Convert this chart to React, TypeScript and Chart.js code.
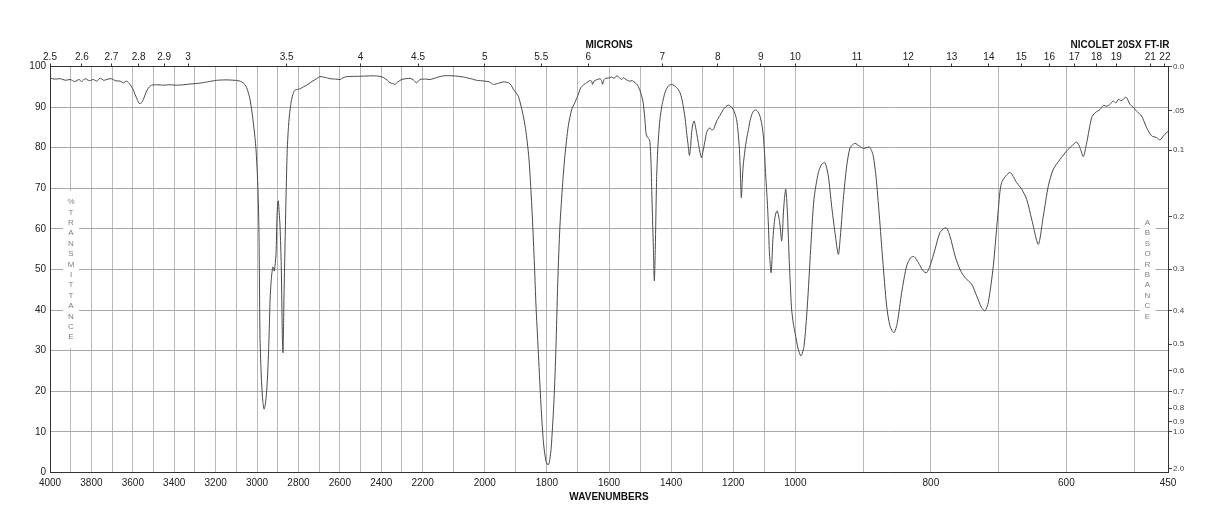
import React, { useEffect, useRef } from 'react';
import { Chart, registerables, LinearScale } from 'chart.js';

Chart.register(...registerables);

// ---------- data ----------
const wavenumbers = [
  4000, 3975, 3950, 3925, 3903, 3880, 3860, 3847, 3830, 3810, 3791, 3775, 3758, 3740, 3720, 3702, 3685, 3662, 3645, 3630,
  3614, 3600, 3589, 3578, 3569, 3559, 3549, 3533, 3520, 3509, 3480, 3453, 3420, 3390, 3356, 3320, 3276, 3240, 3195, 3150,
  3106, 3090, 3074, 3060, 3050, 3040, 3034, 3025, 3018, 3010, 3005, 2998, 2994, 2991, 2989, 2986, 2982, 2978, 2972, 2966,
  2960, 2954, 2948, 2944, 2940, 2937, 2932, 2928, 2924, 2921, 2917, 2912, 2908, 2904, 2900, 2897, 2893, 2889, 2883, 2878,
  2875, 2872, 2870, 2866, 2862, 2858, 2854, 2849, 2844, 2838, 2833, 2825, 2817, 2800, 2792, 2776, 2760, 2735, 2712, 2696,
  2670, 2648, 2620, 2599, 2585, 2567, 2500, 2438, 2410, 2390, 2370, 2358, 2345, 2334, 2320, 2301, 2280, 2261, 2245, 2229,
  2213, 2190, 2176, 2150, 2133, 2101, 2069, 2040, 2026, 2000, 1985, 1972, 1955, 1940, 1924, 1915, 1908, 1900, 1892, 1884,
  1876, 1869, 1863, 1858, 1854, 1847, 1840, 1835, 1828, 1820, 1811, 1803, 1798, 1794, 1789, 1785, 1777, 1771, 1765, 1758,
  1749, 1742, 1731, 1720, 1710, 1699, 1691, 1680, 1672, 1663, 1656, 1653, 1648, 1640, 1629, 1624, 1621, 1617, 1613, 1600,
  1592, 1583, 1575, 1566, 1559, 1553, 1549, 1541, 1533, 1525, 1516, 1508, 1500, 1495, 1490, 1485, 1481, 1477, 1474, 1470,
  1468, 1465, 1463, 1460, 1457, 1454, 1451, 1447, 1444, 1441, 1436, 1430, 1425, 1420, 1414, 1409, 1403, 1398, 1390, 1382,
  1376, 1371, 1366, 1361, 1355, 1350, 1345, 1341, 1337, 1334, 1330, 1326, 1322, 1318, 1313, 1309, 1305, 1302, 1298, 1294,
  1290, 1286, 1280, 1275, 1270, 1264, 1258, 1253, 1248, 1243, 1237, 1232, 1224, 1216, 1208, 1200, 1195, 1189, 1184, 1180,
  1177, 1174, 1171, 1168, 1162, 1157, 1151, 1146, 1140, 1135, 1127, 1120, 1114, 1108, 1103, 1099, 1096, 1092, 1089, 1086,
  1084, 1081, 1078, 1075, 1073, 1069, 1065, 1061, 1058, 1053, 1049, 1046, 1044, 1041, 1039, 1035, 1031, 1028, 1025, 1022,
  1019, 1017, 1012, 1006, 1001, 995.6, 991.6, 987.2, 982.3, 977.4, 972.5, 966, 961.1, 956.2, 951.3, 946.4, 941.5, 936.5, 933.1, 929.2,
  924.2, 919.3, 915, 911.9, 905.5, 899.6, 895, 890.8, 887.5, 884.9, 881, 876, 871.1, 865.2, 860.3, 854.4, 849.5, 843.1, 835.7, 829.8,
  824.9, 818.5, 811.1, 806.2, 801.3, 793.9, 786.5, 777.6, 771.7, 764.4, 757, 749.6, 739.8, 732.4, 725, 720.1, 715.2, 707.8, 700.4, 695.5,
  683.2, 673.4, 666, 658.6, 651.2, 641.4, 634, 626.6, 619.3, 609.4, 599.6, 592.2, 584.8, 579.9, 575, 570, 562.7, 557.7, 550.4, 545.5,
  540, 535.6, 533, 530.7, 527, 523.3, 519, 515.9, 513, 511, 506.1, 501, 496.3, 488.9, 481.5, 474.1, 466.7, 461.8, 456.9, 452, 450,
];

const transmittance = [
  97.1, 96.9, 97.0, 96.6, 96.8, 96.3, 96.8, 96.3, 97.0, 96.5, 96.8, 96.4, 97.1, 96.6, 96.9, 97.0, 96.5, 96.4, 96.0, 96.4,
  95.6, 94.5, 93.1, 91.8, 90.9, 91.0, 91.9, 94.0, 95.0, 95.4, 95.5, 95.4, 95.5, 95.4, 95.5, 95.7, 95.9, 96.2, 96.6, 96.7,
  96.6, 96.5, 96.2, 95.6, 94.8, 93.2, 91.9, 89.0, 86.2, 82.5, 79.6, 73.0, 67.3, 60.0, 50.9, 34.4, 27.0, 22.1, 17.5, 15.6,
  16.8, 19.7, 25.0, 30.3, 37.0, 42.7, 47.0, 49.2, 50.6, 50.5, 49.6, 51.5, 54.1, 62.4, 66.5, 66.9, 64.0, 60.7, 50.9, 34.4,
  29.5, 36.0, 42.7, 53.0, 63.2, 72.0, 79.6, 84.5, 87.8, 90.3, 91.9, 93.4, 94.2, 94.4, 94.5, 95.0, 95.4, 96.3, 97.0, 97.5,
  97.3, 97.0, 96.9, 96.8, 97.2, 97.5, 97.6, 97.7, 97.6, 97.3, 96.6, 96.0, 95.8, 95.6, 96.2, 96.8, 97.0, 97.1, 96.7, 96.0,
  96.8, 96.9, 96.8, 97.4, 97.7, 97.7, 97.4, 96.9, 96.6, 96.4, 96.2, 95.6, 95.9, 96.2, 96.0, 95.4, 94.4, 93.6, 92.7, 90.5,
  87.8, 84.8, 81.2, 77.5, 73.0, 63.2, 50.9, 41.0, 30.3, 18.0, 7.3, 2.8, 2.0, 2.0, 4.0, 7.3, 18.0, 30.3, 46.8, 60.7,
  71.4, 78.0, 85.4, 89.4, 91.1, 93.1, 94.8, 95.6, 96.0, 96.5, 96.4, 95.6, 96.4, 96.7, 97.0, 96.6, 95.6, 96.5, 97.0, 97.2,
  97.4, 97.1, 97.7, 97.2, 96.8, 97.3, 97.0, 96.6, 96.4, 96.5, 96.0, 95.4, 94.0, 92.8, 91.1, 87.5, 83.7, 82.6, 82.4, 82.0,
  81.2, 77.0, 71.4, 63.0, 54.9, 47.2, 54.9, 71.4, 78.0, 82.1, 87.0, 90.2, 92.0, 93.5, 94.6, 95.2, 95.5, 95.6, 95.3, 94.8,
  94.2, 93.5, 92.2, 90.2, 87.3, 83.7, 80.5, 78.1, 80.5, 83.7, 85.8, 86.6, 85.4, 83.7, 81.5, 79.6, 78.2, 77.5, 78.8, 80.4,
  82.0, 83.7, 84.6, 84.9, 84.4, 84.5, 85.6, 86.6, 87.3, 87.9, 88.7, 89.4, 90.1, 90.5, 90.2, 89.4, 88.5, 86.9, 83.5, 79.6,
  74.0, 67.7, 71.5, 75.5, 79.5, 82.1, 84.5, 86.6, 88.2, 89.0, 89.3, 88.8, 87.8, 85.8, 82.9, 78.5, 73.9, 69.0, 64.8, 59.5,
  54.9, 51.5, 49.2, 52.5, 56.6, 60.5, 63.2, 64.2, 64.4, 62.8, 60.7, 58.2, 57.0, 59.5, 63.2, 67.5, 69.8, 67.5, 63.2, 57.0,
  50.9, 47.6, 40.2, 36.5, 34.4, 30.3, 28.7, 31.1, 41.0, 54.9, 67.3, 73.9, 75.9, 76.3, 73.0, 65.6, 59.1, 53.7, 59.1, 67.3,
  75.5, 80.0, 80.8, 81.1, 80.4, 79.8, 80.0, 80.2, 79.3, 77.9, 73.0, 63.2, 52.5, 41.0, 36.1, 34.4, 36.9, 44.3, 50.9, 52.9,
  53.2, 51.7, 49.6, 49.2, 50.9, 54.9, 59.1, 60.3, 58.2, 53.4, 50.0, 48.0, 46.4, 43.5, 40.6, 39.8, 41.9, 50.9, 64.8, 71.4,
  73.9, 71.4, 69.8, 67.3, 62.4, 56.2, 63.2, 70.6, 74.7, 77.1, 79.2, 80.4, 81.4, 80.0, 77.8, 81.2, 87.4, 88.6, 89.4, 90.4,
  90.2, 90.7, 91.2, 91.5, 91.0, 91.9, 91.6, 91.9, 92.4, 92.3, 90.7, 89.9, 89.0, 87.8, 84.9, 82.9, 82.5, 81.9, 82.9, 83.7, 84.0,
];

// bottom axis: labelled wavenumbers (grid every 100)
const wavenumberLabels = [4000, 3800, 3600, 3400, 3200, 3000, 2800, 2600, 2400, 2200, 2000, 1800, 1600, 1400, 1200, 1000, 800, 600, 450];
// top axis: microns
const micronLabels = [2.5, 2.6, 2.7, 2.8, 2.9, 3, 3.5, 4, 4.5, 5, 5.5, 6, 7, 8, 9, 10, 11, 12, 13, 14, 15, 16, 17, 18, 19, 21, 22];
// left axis: % transmittance
const transmittanceTicks = [0, 10, 20, 30, 40, 50, 60, 70, 80, 90, 100];
// right axis: absorbance
const absorbanceValues = [0, 0.05, 0.1, 0.2, 0.3, 0.4, 0.5, 0.6, 0.7, 0.8, 0.9, 1.0, 2.0];
const absorbanceLabels = ['0.0', '.05', '0.1', '0.2', '0.3', '0.4', '0.5', '0.6', '0.7', '0.8', '0.9', '1.0', '2.0'];

// ---------- piecewise wavenumber scale (three equal thirds) ----------
function wnToFrac(v: number) {
  if (v >= 2200) return (4000 - v) / 1800 / 3;
  if (v >= 1000) return 1 / 3 + (2200 - v) / 1200 / 3;
  return 2 / 3 + (1000 - v) / 550 / 3;
}
function fracToWn(f: number) {
  if (f <= 1 / 3) return 4000 - f * 3 * 1800;
  if (f <= 2 / 3) return 2200 - (f - 1 / 3) * 3 * 1200;
  return 1000 - (f - 2 / 3) * 3 * 550;
}

class IRScale extends (LinearScale as any) {
  static id = 'irwave';
  static defaults = { ...(LinearScale as any).defaults };
  getPixelForValue(value: number) {
    return (this as any).getPixelForDecimal(wnToFrac(value));
  }
  getValueForPixel(pixel: number) {
    return fracToWn((this as any).getDecimalForPixel(pixel));
  }
}
Chart.register(IRScale as any);

const FONT = 'Liberation Sans, Arial, Helvetica, sans-serif';

const textPlugin = {
  id: 'irText',
  beforeDatasetsDraw(chart: any) {
    const ctx = chart.ctx;
    ctx.save();
    const drawColumn = (text: string, x: number, yFirst: number, step: number) => {
      const chars = text.split('');
      const yLast = yFirst + step * (chars.length - 1);
      ctx.fillStyle = '#ffffff';
      ctx.fillRect(x - 8, yFirst - 11, 16, yLast - yFirst + 22);
      ctx.fillStyle = '#808080';
      ctx.font = `8px ${FONT}`;
      ctx.textAlign = 'center';
      ctx.textBaseline = 'middle';
      chars.forEach((c, i) => ctx.fillText(c, x, yFirst + i * step));
    };
    const yPix = chart.scales.y;
    const mid = yPix.getPixelForValue(50);
    drawColumn('%TRANSMITTANCE', 71, mid - 6.5 * 10.4, 10.4);
    drawColumn('ABSORBANCE', 1147.5, mid - 4.5 * 10.4, 10.4);
    ctx.restore();
  },
  afterDraw(chart: any) {
    const ctx = chart.ctx;
    ctx.save();
    ctx.fillStyle = '#111';
    ctx.font = `bold 10px ${FONT}`;
    ctx.textAlign = 'center';
    ctx.textBaseline = 'middle';
    const cx = (chart.chartArea.left + chart.chartArea.right) / 2;
    ctx.fillText('MICRONS', cx, 45);
    ctx.fillText('NICOLET 20SX FT-IR', 1120, 45);
    ctx.fillText('WAVENUMBERS', cx, 497);
    ctx.restore();
  },
};

export default function App() {
  const ref = useRef<HTMLCanvasElement | null>(null);

  useEffect(() => {
    if (!ref.current) return;
    const points = wavenumbers.map((w, i) => ({ x: w, y: transmittance[i] }));
    const gridTicks: number[] = [];
    for (let w = 4000; w >= 500; w -= 100) gridTicks.push(w);
    gridTicks.push(450);

    const chart = new Chart(ref.current, {
      type: 'line',
      data: {
        datasets: [
          {
            data: points,
            borderColor: '#4a4a4a',
            borderWidth: 1,
            pointRadius: 0,
            tension: 0.25,
            fill: false,
            xAxisID: 'x',
            yAxisID: 'y',
          },
        ],
      },
      options: {
        animation: false,
        responsive: false,
        devicePixelRatio: 1,
        layout: { padding: 0 },
        plugins: { legend: { display: false }, tooltip: { enabled: false }, title: { display: false } },
        font: { family: FONT },
        scales: {
          x: {
            type: 'irwave' as any,
            position: 'bottom',
            min: 450,
            max: 4000,
            bounds: 'data',
            afterBuildTicks: (s: any) => {
              s.ticks = gridTicks.map((v) => ({ value: v }));
            },
            afterFit: (s: any) => {
              s.height = 528 - 472.5;
            },
            grid: { color: '#b8b8b8', lineWidth: 1, drawTicks: false },
            border: { display: true, color: '#333', width: 1 },
            ticks: {
              autoSkip: false,
              maxRotation: 0,
              padding: 5,
              color: '#222',
              font: { size: 10, family: FONT },
              callback: (v: any) => (wavenumberLabels.includes(Number(v)) ? String(v) : ''),
            },
          } as any,
          x2: {
            type: 'irwave' as any,
            position: 'top',
            min: 450,
            max: 4000,
            bounds: 'data',
            afterBuildTicks: (s: any) => {
              s.ticks = micronLabels.map((m) => ({ value: 10000 / m }));
            },
            afterFit: (s: any) => {
              s.height = 66.5;
            },
            grid: { drawOnChartArea: false, drawTicks: true, tickLength: 3, color: '#333' },
            border: { display: true, color: '#333', width: 1 },
            ticks: {
              autoSkip: false,
              maxRotation: 0,
              padding: 0,
              color: '#222',
              font: { size: 10, family: FONT },
              callback: (_v: any, i: number) => String(micronLabels[i]),
            },
          } as any,
          y: {
            type: 'linear',
            position: 'left',
            min: 0,
            max: 100,
            afterBuildTicks: (s: any) => {
              s.ticks = transmittanceTicks.map((v) => ({ value: v }));
            },
            afterFit: (s: any) => {
              s.width = 50;
            },
            grid: { color: '#a8a8a8', lineWidth: 1, drawTicks: false },
            border: { display: true, color: '#333', width: 1 },
            ticks: {
              padding: 4,
              color: '#222',
              font: { size: 10, family: FONT },
              callback: (v: any) => String(v),
            },
          },
          y2: {
            type: 'linear',
            position: 'right',
            min: 0,
            max: 100,
            afterBuildTicks: (s: any) => {
              s.ticks = absorbanceValues.map((a) => ({ value: 100 * Math.pow(10, -a) }));
            },
            afterFit: (s: any) => {
              s.width = 50;
            },
            grid: { drawOnChartArea: false, drawTicks: true, tickLength: 4, color: '#444' },
            border: { display: true, color: '#333', width: 1 },
            ticks: {
              autoSkip: false,
              padding: 1,
              color: '#444',
              font: { size: 8, family: FONT },
              callback: (_v: any, i: number) => absorbanceLabels[i],
            },
          },
        },
      },
      plugins: [textPlugin],
    } as any);

    return () => chart.destroy();
  }, []);

  return (
    <canvas
      ref={ref}
      width={1218}
      height={528}
      style={{ position: 'fixed', left: 0, top: 0, width: 1218, height: 528, background: '#fff' }}
    />
  );
}
